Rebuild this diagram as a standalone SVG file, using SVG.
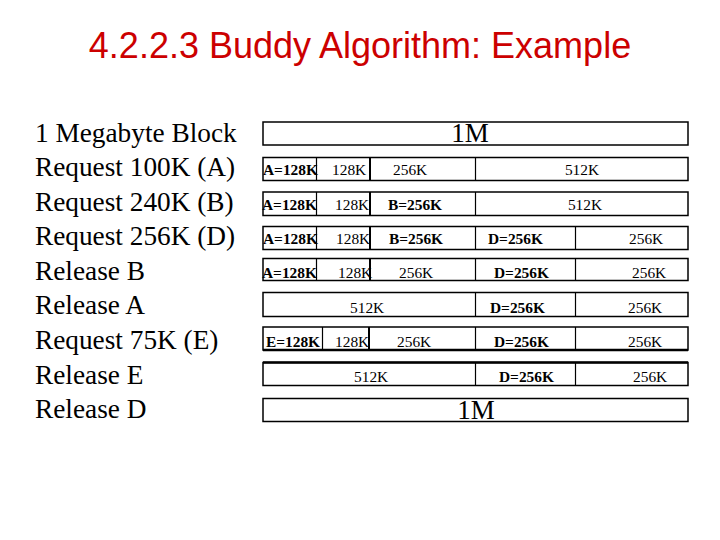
<svg xmlns="http://www.w3.org/2000/svg" width="720" height="540" viewBox="0 0 720 540">
<style>
.title{font-family:"Liberation Sans",Arial,sans-serif;font-size:36px;fill:#cc0000}
.lbl{font-family:"Liberation Serif","Times New Roman",serif;font-size:27.3px;fill:#000}
.box{fill:#fff;stroke:#000;stroke-width:1.5}
.div{stroke:#000;stroke-width:1.2}
.divb{stroke:#000;stroke-width:2}
.t{font-family:"Liberation Serif","Times New Roman",serif;font-size:15.4px;fill:#000}
.b{font-family:"Liberation Serif","Times New Roman",serif;font-size:15.4px;font-weight:bold;fill:#000}
.big{font-family:"Liberation Serif","Times New Roman",serif;font-size:27px;fill:#000}
</style>
<rect width="720" height="540" fill="#fff"/>
<text class="title" x="360" y="58" text-anchor="middle">4.2.2.3 Buddy Algorithm: Example</text>
<g id="labels">
<text class="lbl" x="35" y="142">1 Megabyte Block</text>
<text class="lbl" x="35" y="176">Request 100K (A)</text>
<text class="lbl" x="35" y="211">Request 240K (B)</text>
<text class="lbl" x="35" y="245">Request 256K (D)</text>
<text class="lbl" x="35" y="280">Release B</text>
<text class="lbl" x="35" y="314">Release A</text>
<text class="lbl" x="35" y="349">Request 75K (E)</text>
<text class="lbl" x="35" y="384">Release E</text>
<text class="lbl" x="35" y="418">Release D</text>
</g>
<g id="row1">
<rect class="box" x="263" y="122" width="425" height="23"/>
<text class="big" x="470" y="142" text-anchor="middle">1M</text>
</g>
<g id="row2">
<rect class="box" x="263" y="157.5" width="425" height="23"/>
<line class="div" x1="316.5" y1="157.5" x2="316.5" y2="180.5"/>
<line class="divb" x1="370" y1="157.5" x2="370" y2="180.5"/>
<line class="div" x1="475.5" y1="157.5" x2="475.5" y2="180.5"/>
<text class="b" x="263" y="175">A=128K</text>
<text class="t" x="332" y="175">128K</text>
<text class="t" x="393" y="175">256K</text>
<text class="t" x="582" y="175" text-anchor="middle">512K</text>
</g>
<g id="row3">
<rect class="box" x="263" y="192" width="425" height="23.5"/>
<line class="div" x1="316.5" y1="192" x2="316.5" y2="215.5"/>
<line class="divb" x1="370" y1="192" x2="370" y2="215.5"/>
<line class="div" x1="475.5" y1="192" x2="475.5" y2="215.5"/>
<text class="b" x="262" y="210">A=128K</text>
<text class="t" x="335" y="210">128K</text>
<text class="b" x="388" y="210">B=256K</text>
<text class="t" x="585" y="210" text-anchor="middle">512K</text>
</g>
<g id="row4">
<rect class="box" x="263" y="226.5" width="425" height="23"/>
<line class="div" x1="316.5" y1="226.5" x2="316.5" y2="249.5"/>
<line class="divb" x1="370" y1="226.5" x2="370" y2="249.5"/>
<line class="div" x1="475.5" y1="226.5" x2="475.5" y2="249.5"/>
<line class="div" x1="575.5" y1="226.5" x2="575.5" y2="249.5"/>
<text class="b" x="263" y="244">A=128K</text>
<text class="t" x="336" y="244">128K</text>
<text class="b" x="389" y="244">B=256K</text>
<text class="b" x="488" y="244">D=256K</text>
<text class="t" x="629" y="244">256K</text>
</g>
<g id="row5">
<rect class="box" x="263" y="258.5" width="425" height="22"/>
<line class="div" x1="316.5" y1="258.5" x2="316.5" y2="280.5"/>
<line class="divb" x1="370" y1="258.5" x2="370" y2="280.5"/>
<line class="div" x1="475.5" y1="258.5" x2="475.5" y2="280.5"/>
<line class="div" x1="575.5" y1="258.5" x2="575.5" y2="280.5"/>
<text class="b" x="262" y="278">A=128K</text>
<text class="t" x="338" y="278">128K</text>
<text class="t" x="399" y="278">256K</text>
<text class="b" x="494" y="278">D=256K</text>
<text class="t" x="632" y="278">256K</text>
</g>
<g id="row6">
<rect class="box" x="263" y="292.5" width="425" height="24"/>
<line class="div" x1="475.5" y1="292.5" x2="475.5" y2="316.5"/>
<line class="div" x1="575.5" y1="292.5" x2="575.5" y2="316.5"/>
<text class="t" x="350" y="313">512K</text>
<text class="b" x="490" y="313">D=256K</text>
<text class="t" x="628" y="313">256K</text>
</g>
<g id="row7">
<rect class="box" x="263" y="327" width="425" height="23"/>
<line x1="263" y1="350" x2="688" y2="350" stroke="#000" stroke-width="2.5"/>
<line class="div" x1="322.5" y1="327" x2="322.5" y2="350"/>
<line class="divb" x1="369" y1="327" x2="369" y2="350"/>
<line class="div" x1="475.5" y1="327" x2="475.5" y2="350"/>
<line class="div" x1="575.5" y1="327" x2="575.5" y2="350"/>
<text class="b" x="266" y="347">E=128K</text>
<text class="t" x="335" y="347">128K</text>
<text class="t" x="397" y="347">256K</text>
<text class="b" x="494" y="347">D=256K</text>
<text class="t" x="628" y="347">256K</text>
</g>
<g id="row8">
<rect class="box" x="263" y="362.5" width="425" height="23"/>
<line x1="263" y1="362.5" x2="688" y2="362.5" stroke="#000" stroke-width="2.5"/>
<line class="div" x1="475.5" y1="362.5" x2="475.5" y2="385.5"/>
<line class="div" x1="575.5" y1="362.5" x2="575.5" y2="385.5"/>
<text class="t" x="354" y="382">512K</text>
<text class="b" x="499" y="382">D=256K</text>
<text class="t" x="633" y="382">256K</text>
</g>
<g id="row9">
<rect class="box" x="263" y="398.5" width="425" height="23"/>
<text class="big" x="476" y="419" text-anchor="middle">1M</text>
</g>
</svg>
